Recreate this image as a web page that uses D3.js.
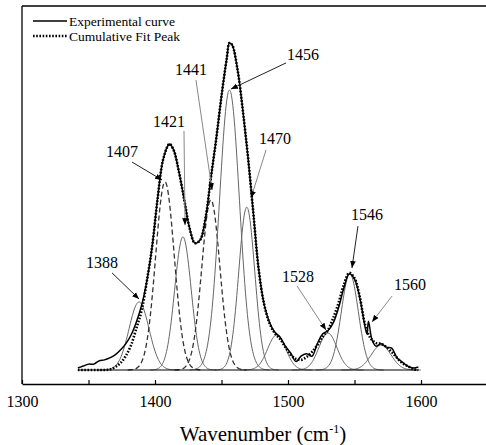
<!DOCTYPE html>
<html><head><meta charset="utf-8">
<script src="https://cdn.jsdelivr.net/npm/d3@7/dist/d3.min.js"></script>
<style>
html,body{margin:0;padding:0;background:#fff;}
svg{display:block;}
svg text{font-family:"Liberation Serif","Times New Roman",serif;}
</style></head>
<body><svg id="c" width="486" height="445"></svg>
<script>
// ---- data ----
const wavenumbers = [1342,1346,1350,1354,1358,1362,1366,1370,1374,1378,1382,1386,1390,1394,1398,1402,1406,1410,1411,1414,1418,1422,1426,1430,1434,1438,1442,1446,1450,1454,1456,1458,1462,1466,1470,1474,1478,1482,1486,1490,1494,1498,1502,1506,1510,1514,1518,1522,1526,1530,1534,1538,1542,1546,1550,1554,1558,1562,1566,1570,1574,1578,1582,1586,1590,1594,1598];
const cumulativeFit = [0,0,0,0,0,0,0.15,0.9,2.1,4.3,7.6,12.8,18.3,27.5,38.2,52.6,64.2,68.8,69.1,67.3,60.6,52.0,43.4,38.8,39.8,46.5,58.7,70.6,83.8,95.4,100,99.4,92.0,79.5,64.8,47.7,30.6,20.2,14.4,11.3,9.5,7.0,4.6,3.4,3.1,4.0,5.5,7.6,10.1,12.2,15.9,20.5,26.0,29.7,28.1,22.3,13.8,9.8,8.3,8.0,7.0,5.5,3.7,2.1,1.2,0.3,0];
const expWavenumbers = [1342,1346,1350,1354,1358,1362,1366,1370,1374,1378,1382,1386,1390,1394,1398,1402,1406,1410,1411,1414,1418,1422,1426,1430,1434,1438,1442,1446,1450,1454,1456,1458,1462,1466,1470,1474,1478,1482,1486,1490,1494,1498,1502,1506,1510,1514,1518,1522,1526,1530,1534,1538,1542,1546,1550,1554,1558,1559.4,1560.5,1563.2,1566,1570,1574,1578,1582,1586,1590,1594,1598];
const experimental = [0.6,1.2,1.8,1.8,2.8,3.1,3.7,4.6,6.1,8.0,10.7,14.7,19.9,27.5,38.2,52.6,64.2,68.8,69.1,67.3,60.6,52.0,43.4,38.8,39.8,46.5,58.7,70.6,83.8,95.4,100,99.4,92.0,79.5,64.8,47.7,30.6,20.2,14.7,11.6,10.1,7.3,5.2,2.6,4.3,5.0,4.2,8.0,11.0,12.0,14.4,19.0,25.1,29.4,27.8,22.0,13.1,11.0,14.9,9.2,7.3,8.0,7.0,6.7,3.7,2.4,1.2,0.6,0.9];
// fitted component peaks (centre, height, width sigma)
const peakCenters = [1388,1407.5,1421,1442,1456,1469,1491.5,1530,1546.5,1570];
const peakHeights = [20.8,57.5,40.7,52,85.6,49.8,10.7,11.3,29.4,7.6];
const peakSigmas  = [7.5,7,6.2,6.8,7.5,6,6.8,6.8,6.4,7.5];
const peakDashed  = [false,true,false,true,false,false,false,false,false,false];
const baselineRange = [1342,1598];
const xTicks = [1300,1350,1400,1450,1500,1550,1600,1650];
const xTickLabels = [1300,1400,1500,1600];
// annotations: label, label position, leader start, arrow tip (data units)
const annLabels = ["1388","1407","1421","1441","1456","1470","1546","1528","1560"];
const annLabelPos = [[1360.2,31.2],[1375.2,65.1],[1410.5,74.3],[1427.1,90.2],[1511.3,94.8],[1490.2,69.1],[1559.4,45.9],[1507.5,26.9],[1591.7,24.5]];
const annStart = [[1367.7,29.7],[1382.7,63.6],[1421.8,73.1],[1430.8,88.7],[1498.5,93.9],[1483.5,67.3],[1552.6,44.0],[1506.8,25.7],[1578.2,22.6]];
const annTip = [[1388.0,21.7],[1405.3,58.1],[1422.6,44.3],[1442.9,55.0],[1457.1,85.9],[1472.2,52.6],[1548.1,31.2],[1528.6,12.2],[1563.2,14.7]];
const annDark = [true,true,false,false,true,false,true,false,false];

// ---- layout ----
const svg = d3.select("#c");
const L = 22, T = 6, B = 384;
const x = d3.scaleLinear().domain([1300,1650]).range([L, L + 350*1.33]);
const y = d3.scaleLinear().domain([-4.281,111.31]).range([B, T]);

const defs = svg.append("defs");
defs.append("marker").attr("id","ah").attr("viewBox","0 0 10 10").attr("refX",10).attr("refY",5)
  .attr("markerWidth",7).attr("markerHeight",7).attr("markerUnits","userSpaceOnUse").attr("orient","auto")
  .append("path").attr("d","M0,1 L10,5 L0,9 Z").attr("fill","#000");

const line = d3.line().x(d=>x(d[0])).y(d=>y(d[1])).curve(d3.curveCatmullRom.alpha(0.5));

// component peaks
peakCenters.forEach((c,i)=>{
  const s = peakSigmas[i], h = peakHeights[i];
  const pts = d3.range(c-4*s, c+4*s+0.01, 0.5).map(w=>[w, h*Math.exp(-((w-c)*(w-c))/(2*s*s))]);
  svg.append("path").attr("d", line(pts)).attr("fill","none")
    .attr("stroke", peakDashed[i] ? "#333" : "#666")
    .attr("stroke-width", peakDashed[i] ? 1.3 : 1)
    .attr("stroke-dasharray", peakDashed[i] ? "5,3" : null);
});

// baseline
svg.append("line").attr("x1",x(baselineRange[0])).attr("x2",x(baselineRange[1]))
  .attr("y1",y(0)).attr("y2",y(0)).attr("stroke","#000").attr("stroke-width",1.2);

// experimental curve
svg.append("path").attr("d", line(expWavenumbers.map((w,i)=>[w,experimental[i]])))
  .attr("fill","none").attr("stroke","#000").attr("stroke-width",1.5);
// cumulative fit
svg.append("path").attr("d", line(wavenumbers.map((w,i)=>[w,cumulativeFit[i]])))
  .attr("fill","none").attr("stroke","#000").attr("stroke-width",2.6).attr("stroke-dasharray","1.6,1.6");

// frame
svg.append("line").attr("x1",L).attr("x2",486).attr("y1",T).attr("y2",T).attr("stroke","#000").attr("stroke-width",1.3);
svg.append("line").attr("x1",L).attr("x2",L).attr("y1",T).attr("y2",B).attr("stroke","#000").attr("stroke-width",1.3);

// x axis
const xAxis = d3.axisBottom(x).tickValues(xTicks).tickSizeInner(-4).tickSizeOuter(0).tickFormat(d=> xTickLabels.includes(d) ? d : "");
const gx = svg.append("g").attr("transform",`translate(0,${B})`).call(xAxis).attr("font-family",null);
gx.select(".domain").attr("stroke","#000").attr("stroke-width",1.3);
gx.selectAll(".tick line").attr("stroke","#000").attr("stroke-width",1.2);
gx.selectAll(".tick text").style("font-family","'Liberation Serif', serif").attr("font-size",16).attr("fill","#000").attr("y",12);

svg.append("text").attr("x",263).attr("y",441).attr("text-anchor","middle").attr("font-size",21).attr("fill","#000")
  .html('Wavenumber (cm<tspan dy="-8" font-size="12">-1</tspan><tspan dy="8">)</tspan>');

// legend
svg.append("line").attr("x1",33).attr("x2",67).attr("y1",21).attr("y2",21).attr("stroke","#000").attr("stroke-width",1.5);
svg.append("text").attr("x",69).attr("y",25.5).attr("font-size",13.5).text("Experimental curve");
svg.append("line").attr("x1",33).attr("x2",67).attr("y1",36).attr("y2",36).attr("stroke","#000").attr("stroke-width",2.4).attr("stroke-dasharray","1.6,1.6");
svg.append("text").attr("x",69).attr("y",40.5).attr("font-size",13.5).text("Cumulative Fit Peak");

// annotations
annLabels.forEach((t,i)=>{
  svg.append("line").attr("x1",x(annStart[i][0])).attr("y1",y(annStart[i][1]))
    .attr("x2",x(annTip[i][0])).attr("y2",y(annTip[i][1]))
    .attr("stroke", annDark[i] ? "#222" : "#888").attr("stroke-width",1).attr("marker-end","url(#ah)");
  svg.append("text").attr("x",x(annLabelPos[i][0])).attr("y",y(annLabelPos[i][1]))
    .attr("text-anchor","middle").attr("font-size",16).attr("fill","#000").text(t);
});
</script></body></html>
